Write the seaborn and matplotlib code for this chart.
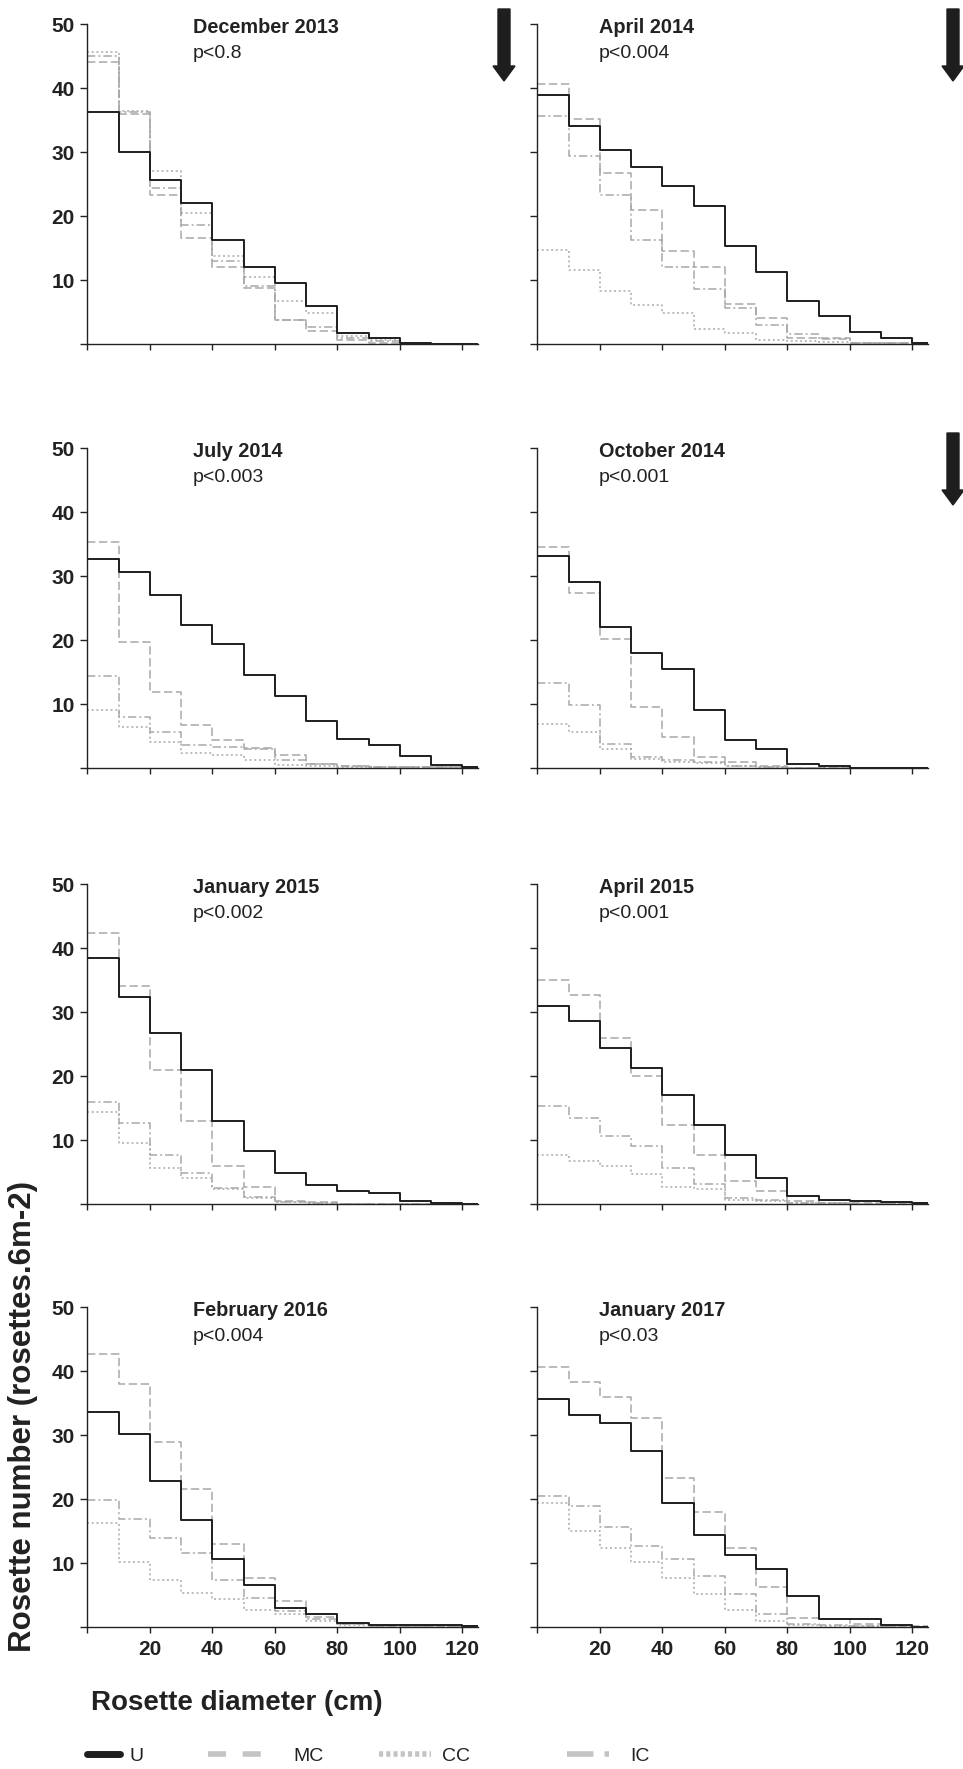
import numpy as np
import pandas as pd
import matplotlib
matplotlib.use("Agg")
import matplotlib.pyplot as plt
import seaborn as sns
from matplotlib.lines import Line2D
from matplotlib.patches import FancyArrow


# Size classes of rosette diameter (10 cm wide, 0-130 cm)
bin_edges = np.arange(0, 140, 10)
treatments = ["U", "MC", "CC", "IC"]

panel_titles = ["December 2013", "April 2014", "July 2014", "October 2014",
                "January 2015", "April 2015", "February 2016", "January 2017"]
p_values = ["p<0.8", "p<0.004", "p<0.003", "p<0.001",
            "p<0.002", "p<0.001", "p<0.004", "p<0.03"]

# Rosette number per diameter class, one row per survey
u_values = [
    [36.3, 30.0, 25.6, 22.0, 16.3, 12.0, 9.6, 6.0, 1.7, 1.0, 0.15, 0.0, 0.0],
    [38.9, 34.0, 30.3, 27.6, 24.7, 21.6, 15.3, 11.3, 6.7, 4.3, 1.9, 0.9, 0.1],
    [32.7, 30.7, 27.0, 22.3, 19.3, 14.6, 11.3, 7.3, 4.6, 3.6, 1.9, 0.5, 0.2],
    [33.1, 29.0, 22.0, 18.0, 15.4, 9.0, 4.3, 2.9, 0.6, 0.3, 0.05, 0.05, 0.05],
    [38.4, 32.3, 26.7, 20.9, 13.0, 8.3, 4.9, 3.0, 2.0, 1.7, 0.4, 0.1, 0.0],
    [31.0, 28.6, 24.3, 21.3, 17.0, 12.3, 7.6, 4.0, 1.3, 0.6, 0.4, 0.3, 0.1],
    [33.6, 30.2, 22.8, 16.7, 10.6, 6.6, 3.0, 2.0, 0.7, 0.3, 0.3, 0.3, 0.1],
    [35.7, 33.2, 31.9, 27.5, 19.3, 14.3, 11.3, 9.0, 4.9, 1.3, 1.3, 0.3, 0.0],
]
mc_values = [
    [44.1, 36.0, 23.3, 16.6, 12.0, 8.7, 3.7, 2.0, 0.7, 0.2, 0.0, 0.0, 0.0],
    [40.7, 35.1, 26.7, 21.0, 14.6, 12.0, 6.3, 4.0, 0.9, 0.9, 0.2, 0.1, 0.1],
    [35.3, 19.7, 11.9, 6.7, 4.3, 3.2, 2.0, 0.7, 0.3, 0.1, 0.1, 0.1, 0.1],
    [34.6, 27.4, 20.1, 9.6, 4.9, 1.7, 0.9, 0.3, 0.0, 0.0, 0.0, 0.0, 0.0],
    [42.4, 34.0, 20.9, 13.0, 6.0, 2.7, 0.5, 0.3, 0.0, 0.0, 0.0, 0.0, 0.0],
    [35.0, 32.6, 26.0, 20.0, 12.3, 7.6, 3.6, 2.0, 0.4, 0.1, 0.1, 0.1, 0.1],
    [42.6, 37.9, 28.9, 21.6, 13.0, 7.6, 4.0, 1.6, 0.4, 0.1, 0.1, 0.1, 0.1],
    [40.6, 38.3, 35.9, 32.6, 23.3, 18.0, 12.3, 6.3, 1.4, 1.2, 0.5, 0.1, 0.1],
]
cc_values = [
    [45.7, 36.4, 27.0, 20.4, 13.7, 10.4, 6.7, 4.8, 1.2, 0.7, 0.1, 0.0, 0.0],
    [14.7, 11.6, 8.3, 6.1, 4.9, 2.3, 1.7, 0.6, 0.4, 0.3, 0.1, 0.1, 0.1],
    [9.0, 6.4, 4.0, 2.3, 2.0, 1.3, 0.5, 0.3, 0.1, 0.1, 0.1, 0.1, 0.1],
    [6.9, 5.6, 3.0, 1.4, 1.0, 0.8, 0.3, 0.1, 0.0, 0.0, 0.0, 0.0, 0.0],
    [14.3, 9.6, 5.6, 4.0, 2.3, 0.9, 0.3, 0.1, 0.0, 0.0, 0.0, 0.0, 0.0],
    [7.7, 6.7, 6.0, 4.7, 2.6, 2.4, 0.7, 0.4, 0.1, 0.1, 0.0, 0.0, 0.0],
    [16.3, 10.2, 7.3, 5.3, 4.3, 2.6, 2.1, 0.9, 0.3, 0.1, 0.1, 0.1, 0.1],
    [19.3, 15.0, 12.3, 10.2, 7.6, 5.2, 2.6, 0.9, 0.3, 0.1, 0.1, 0.0, 0.0],
]
ic_values = [
    [45.0, 36.2, 24.3, 18.6, 13.0, 9.1, 3.7, 2.6, 1.0, 0.5, 0.05, 0.0, 0.0],
    [35.7, 29.4, 23.3, 16.3, 12.0, 8.6, 5.6, 2.9, 1.6, 0.8, 0.2, 0.1, 0.1],
    [14.3, 8.0, 5.6, 3.6, 3.3, 2.9, 1.3, 0.6, 0.3, 0.1, 0.1, 0.1, 0.1],
    [13.3, 9.9, 3.8, 1.7, 1.3, 0.9, 0.3, 0.1, 0.0, 0.0, 0.0, 0.0, 0.0],
    [16.0, 12.7, 7.6, 4.8, 2.5, 1.1, 0.3, 0.1, 0.0, 0.0, 0.0, 0.0, 0.0],
    [15.3, 13.4, 10.7, 9.0, 5.7, 3.2, 1.0, 0.6, 0.1, 0.1, 0.0, 0.0, 0.0],
    [19.9, 16.9, 13.9, 11.5, 7.3, 4.6, 2.5, 1.3, 0.4, 0.1, 0.1, 0.1, 0.1],
    [20.5, 18.9, 15.6, 12.6, 10.6, 8.0, 5.2, 2.0, 0.5, 0.3, 0.1, 0.0, 0.0],
]

# long table: repeat the last class value so the step reaches the last edge
rows = []
for i, title in enumerate(panel_titles):
    for name, series in zip(treatments, [u_values[i], mc_values[i], cc_values[i], ic_values[i]]):
        ys = list(series) + [series[-1]]
        for x, y in zip(bin_edges, ys):
            rows.append({"panel": title, "treatment": name, "diameter": x, "count": y})
df = pd.DataFrame(rows)

sns.set_style("ticks")
plt.rcParams["font.family"] = ["Liberation Sans", "DejaVu Sans"]
plt.rcParams["lines.scale_dashes"] = False
plt.rcParams["axes.edgecolor"] = "#222222"
plt.rcParams["xtick.color"] = "#222222"
plt.rcParams["ytick.color"] = "#222222"
plt.rcParams["text.color"] = "#222222"

ink = "#1e1e1e"
grey = "#a8a8a8"
colors = {"U": ink, "MC": grey, "CC": grey, "IC": grey}
dash_map = {"U": "", "MC": (6, 2.6), "CC": (1.4, 2.0), "IC": (6, 2.2, 1.4, 2.2)}
widths = {"U": 1.4, "MC": 1.1, "CC": 1.1, "IC": 1.1}
draw_order = ["MC", "CC", "IC", "U"]

fig = plt.figure(figsize=(9.63, 17.69), dpi=100)
W, H = 963, 1769
col_left = [87.3, 537.3]
row_bottom = [344, 768, 1204, 1627]
ax_w, ax_h = 390.7, 320

for i, title in enumerate(panel_titles):
    r, c = divmod(i, 2)
    ax = fig.add_axes([col_left[c] / W, 1 - row_bottom[r] / H, ax_w / W, ax_h / H])
    sub = df[df["panel"] == title]
    sns.lineplot(data=sub, x="diameter", y="count", hue="treatment", style="treatment",
                 size="treatment", hue_order=draw_order, style_order=draw_order,
                 size_order=draw_order, palette=colors, dashes=dash_map, sizes=widths,
                 estimator=None, errorbar=None, drawstyle="steps-post", legend=False, ax=ax)
    ax.set_xlim(0, 125)
    ax.set_ylim(0, 50)
    sns.despine(ax=ax)
    ax.spines["left"].set_linewidth(1.0)
    ax.spines["bottom"].set_linewidth(1.0)
    ax.set_xlabel("")
    ax.set_ylabel("")
    ax.set_xticks(np.arange(0, 121, 20))
    ax.set_yticks(np.arange(0, 51, 10))
    ax.tick_params(axis="y", length=5, width=1.0, pad=4)
    ax.tick_params(axis="x", length=4.5, width=1.0, pad=5)
    if c == 0:
        ax.set_yticklabels([""] + [str(v) for v in range(10, 51, 10)],
                           fontsize=15, fontweight="bold")
    else:
        ax.set_yticklabels([])
    if r == 3:
        ax.set_xticklabels([""] + [str(v) for v in range(20, 121, 20)],
                           fontsize=15, fontweight="bold")
    else:
        ax.set_xticklabels([])
    tx = 0.27 if c == 0 else 0.158
    ax.text(tx, 1 - 9 / ax_h, title, transform=ax.transAxes, fontsize=14.3,
            fontweight="bold", va="baseline", ha="left", clip_on=False)
    ax.text(tx, 1 - 34 / ax_h, p_values[i], transform=ax.transAxes, fontsize=14,
            va="baseline", ha="left", clip_on=False)

# arrows marking the surveys after an event
for ax_x, top in [(504, 9), (953, 9), (953, 433)]:
    arrow = FancyArrow(ax_x / 100, (H - top) / 100, 0, -0.72, width=0.12, head_width=0.22,
                       head_length=0.15, length_includes_head=True, color=ink,
                       transform=fig.dpi_scale_trans)
    fig.add_artist(arrow)

fig.text(23 / W, 1 - 1652 / H, "Rosette number (rosettes.6m-2)", rotation=90,
         rotation_mode="anchor", ha="left", va="center", fontsize=22.5, fontweight="bold")
fig.text(91 / W, 1 - 1703 / H, "Rosette diameter (cm)", ha="left", va="center",
         fontsize=20, fontweight="bold")

# legend strip along the bottom edge
legend_items = [
    ("U", ink, "-", 5.0, 87, 1.6, 0.45),
    ("MC", "#c4c4c4", (0, (13, 12)), 4.0, 208, 2.9, 1.3),
    ("CC", "#c4c4c4", (0, (3, 2.2)), 4.0, 379, 2.5, 0.55),
    ("IC", "#c4c4c4", (0, (19, 8, 3.5, 8)), 4.0, 567, 2.0, 1.1),
]
for name, col, ls, lw, lx, hl, pad in legend_items:
    handle = Line2D([], [], color=col, linestyle=ls, linewidth=lw)
    fig.legend(handles=[handle], labels=[name], loc="center left",
               bbox_to_anchor=(lx / W, 1 - 1756 / H), frameon=False, fontsize=14,
               handlelength=hl * 15 / 14, handletextpad=pad, borderpad=0, borderaxespad=0)

fig.savefig("out.png", dpi=100)
